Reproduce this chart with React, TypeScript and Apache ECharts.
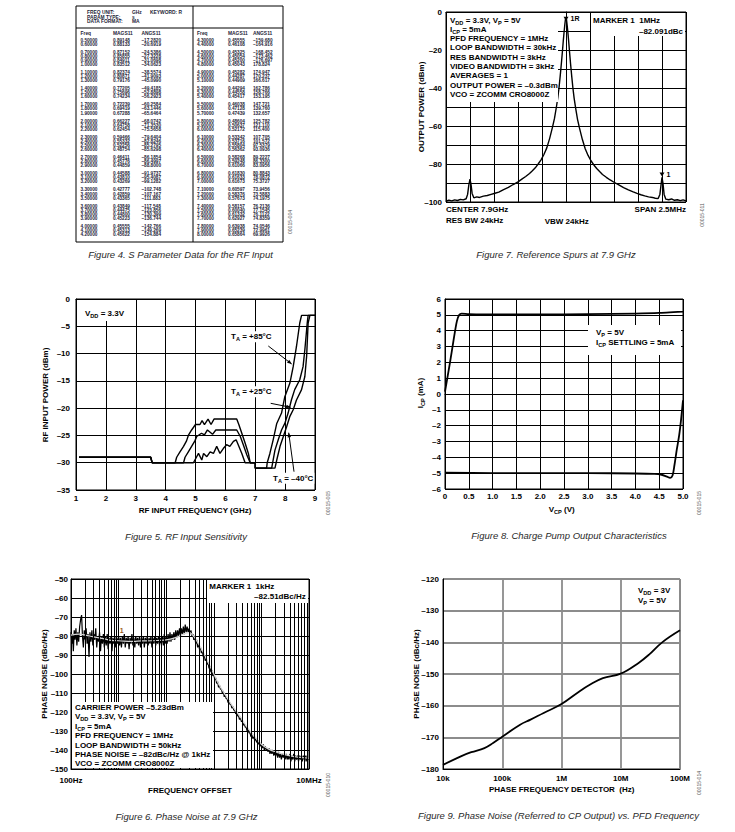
import React, { useEffect, useRef } from 'react';
import * as echarts from 'echarts';

const FONT = '"Liberation Sans", Arial, Helvetica, sans-serif';
const DASH = '\u2013';

// ---------------- Figure 4: S-parameter table ----------------
const tableFreqLeft = ['0.50000','0.60000','0.70000','0.80000','0.90000','1.00000','1.10000','1.20000','1.30000','1.40000','1.50000','1.60000','1.70000','1.80000','1.90000','2.00000','2.10000','2.20000','2.30000','2.40000','2.50000','2.60000','2.70000','2.80000','2.90000','3.00000','3.10000','3.20000','3.30000','3.40000','3.50000','3.60000','3.70000','3.80000','3.90000','4.00000','4.10000','4.20000'];
const tableMagLeft = ['0.89148','0.88133','0.87152','0.85855','0.84911','0.83512','0.82374','0.80871','0.79176','0.77205','0.75696','0.74234','0.72239','0.69419','0.67288','0.66227','0.64758','0.62454','0.59466','0.55332','0.52256','0.48754','0.46411','0.45776','0.44859','0.44588','0.43810','0.43269','0.42777','0.42859','0.43365','0.43849','0.44475','0.44800','0.45223','0.45555','0.45313','0.45622'];
const tableAngLeft = ['–17.2820','–20.6919','–24.5386','–27.3228','–31.0698','–34.0623','–38.5574','–41.9093','–45.0990','–49.4185','–52.8898','–56.2923','–60.2584','–63.1446','–65.6464','–68.0742','–71.3530','–75.5658','–79.6404','–82.8246','–85.2795','–85.6298','–86.1854','–86.4997','–88.8000','–91.9737','–95.4087','–99.1282','–102.748','–107.167','–111.883','–117.548','–123.856','–130.399','–136.744','–142.766','–149.269','–154.884'];
const tableFreqRight = ['4.30000','4.40000','4.50000','4.60000','4.70000','4.80000','4.90000','5.00000','5.10000','5.20000','5.30000','5.40000','5.50000','5.60000','5.70000','5.80000','5.90000','6.00000','6.10000','6.20000','6.30000','6.40000','6.50000','6.60000','6.70000','6.80000','6.90000','7.00000','7.10000','7.20000','7.30000','7.40000','7.50000','7.60000','7.70000','7.80000','7.90000','8.00000'];
const tableMagRight = ['0.45555','0.46108','0.45325','0.45054','0.45200','0.45043','0.45282','0.44287','0.44909','0.44294','0.44558','0.45417','0.46038','0.47128','0.47439','0.48604','0.50637','0.52172','0.53342','0.53716','0.55804','0.56362','0.58268','0.59248','0.61066','0.61830','0.61633','0.61673','0.60597','0.58376','0.57673','0.58157','0.60040','0.61332','0.62927','0.63938','0.65239','0.65864'];
const tableAngRight = ['–159.680','–164.916','–168.452','–173.462','–176.697','178.824','174.947','170.237','166.617','162.786','158.766','153.195','147.721','139.760','132.657','125.782','121.110','115.400','107.705','101.572','97.5379','93.0936','89.2227','86.3300','83.0956','80.8843','78.0872','75.3727','73.9456','73.5883','74.1975','76.2136','77.1545','76.1122','74.8359','74.0546','72.9961','69.9926'];
const tableGroupSizes = [2, 4, 3, 3, 3, 3, 4, 3, 3, 3, 4, 3];

// ---------------- Figure 7: reference spurs (offset MHz, dBm) ----------------
const spectrum: [number, number][] = [
  [-1.25,-99.6],[-1.22,-99.0],[-1.19,-99.4],[-1.16,-98.9],[-1.13,-99.2],[-1.10,-98.6],[-1.07,-98.9],[-1.04,-98.3],
  [-1.025,-96],[-1.012,-91],[-1.0,-88],[-0.99,-90.5],[-0.978,-95.5],[-0.96,-97.8],[-0.93,-97.3],[-0.90,-97.6],
  [-0.86,-96.9],[-0.82,-96.6],[-0.78,-96.0],[-0.74,-95.4],[-0.70,-94.8],[-0.65,-93.5],[-0.60,-92.3],[-0.55,-90.8],
  [-0.50,-89.4],[-0.46,-88],[-0.42,-86.6],[-0.38,-85],[-0.35,-83.6],[-0.32,-82],[-0.29,-80],[-0.26,-77.8],
  [-0.23,-75],[-0.20,-71.5],[-0.17,-66.5],[-0.14,-60.5],[-0.12,-56],[-0.10,-50],[-0.085,-45],[-0.073,-40],
  [-0.06,-33.5],[-0.048,-27],[-0.036,-20],[-0.028,-15],[-0.02,-10.5],[-0.012,-6.5],[-0.005,-3.5],[0,-2.8],
  [0.005,-3.8],[0.012,-7],[0.02,-11],[0.028,-15.5],[0.036,-20.5],[0.048,-27.5],[0.06,-34],[0.073,-40.5],
  [0.085,-45.5],[0.10,-50.5],[0.12,-56.5],[0.14,-61],[0.17,-67],[0.20,-72],[0.23,-75.5],[0.26,-78.3],
  [0.29,-80.5],[0.32,-82.4],[0.35,-84],[0.38,-85.5],[0.42,-87],[0.46,-88.4],[0.50,-89.6],[0.55,-91],
  [0.60,-92.4],[0.65,-93.6],[0.70,-94.7],[0.74,-95.5],[0.78,-96.2],[0.82,-96.8],[0.86,-97.3],[0.90,-97.6],
  [0.93,-98],[0.96,-98.2],[0.978,-96],[0.99,-91],[1.0,-87],[1.01,-90],[1.022,-96],[1.04,-98.5],
  [1.07,-98.8],[1.10,-98.4],[1.13,-99.1],[1.16,-98.8],[1.19,-99.3],[1.22,-98.9],[1.25,-99.4]
];

// ---------------- Figure 5: RF input sensitivity (GHz, dBm) ----------------
const rfSens85: [number, number][] = [
  [1.1,-29],[3.5,-29],[3.55,-30],[4.32,-30],[4.37,-29],[4.48,-28],[4.6,-27],[4.7,-26],[4.76,-25],[4.87,-24],
  [5.0,-23],[5.15,-23],[5.22,-22.3],[5.3,-23],[5.42,-22],[5.52,-23],[5.62,-22],[6.38,-22],[6.45,-23],[6.55,-24.6],
  [6.66,-26.4],[6.77,-28.3],[6.83,-30],[7.0,-30],[7.0,-31],[7.38,-31],[7.4,-30],[7.49,-28.3],[7.6,-25.8],
  [7.72,-22.8],[7.88,-20.9],[7.99,-17.9],[8.16,-15.4],[8.27,-12.4],[8.38,-8.7],[8.49,-4.4],[8.55,-3],[9.0,-3]
];
const rfSens25: [number, number][] = [
  [1.1,-29],[3.5,-29],[3.55,-30],[4.6,-30],[4.65,-29],[4.76,-28],[4.87,-27],[4.98,-26],[5.04,-25.2],[5.2,-24.6],
  [5.3,-24.9],[5.4,-24],[5.57,-24.8],[5.68,-24],[6.38,-24],[6.5,-25.2],[6.6,-26.7],[6.72,-28.6],[6.83,-30],
  [7.0,-30],[7.0,-31],[7.55,-31],[7.6,-29.5],[7.66,-27.7],[7.77,-25.8],[7.88,-24],[7.99,-22.8],[8.1,-20.9],
  [8.21,-18.5],[8.32,-16.6],[8.49,-14.8],[8.6,-12.4],[8.66,-9.3],[8.74,-4.4],[8.77,-3],[9.0,-3]
];
const rfSensM40: [number, number][] = [
  [1.1,-29],[3.5,-29],[3.55,-30],[4.93,-30],[5.04,-28.9],[5.1,-28.3],[5.21,-29.5],[5.27,-28.3],[5.38,-28.9],
  [5.49,-28],[5.6,-28.3],[5.71,-27],[5.82,-28.3],[5.93,-27.4],[6.04,-26.7],[6.15,-27],[6.27,-26.1],[6.36,-25.8],
  [6.43,-26.7],[6.55,-28.3],[6.66,-30],[7.0,-30],[7.0,-31],[7.66,-31],[7.72,-29.5],[7.83,-27],[7.94,-25.2],
  [8.05,-23.4],[8.16,-21.5],[8.27,-20.3],[8.38,-18.5],[8.55,-16.6],[8.66,-14.2],[8.72,-10.5],[8.77,-4.4],[8.83,-3],[9.0,-3]
];

// ---------------- Figure 8: charge pump output (V, mA) ----------------
const cpSourceV = [0, 0.1, 0.18, 0.25, 0.3, 0.35, 0.5, 1, 2, 3, 4, 4.5, 5];
const cpSourceI = [0.15, 1.9, 3.4, 4.6, 5.0, 5.08, 5.05, 5.02, 5.02, 5.04, 5.08, 5.12, 5.2];
const cpSinkV = [0, 1, 2, 3, 4, 4.4, 4.55, 4.65, 4.73, 4.78, 4.82, 4.87, 4.92, 4.96, 5.0];
const cpSinkI = [-4.97, -5, -5, -5, -5.02, -5.05, -5.1, -5.2, -5.3, -5.15, -4.5, -3.5, -2.6, -1.6, -0.4];

// ---------------- Figure 6: phase noise at 7.9 GHz (Hz, dBc/Hz) ----------------
const pnNoise: [number, number][] = [
  [100,-78],[104,-84],[108,-79],[112,-88],[117,-77],[122,-82],[127,-76],[133,-85],[139,-78],[145,-83],[152,-75],[160,-71],[167,-69],[174,-80],[182,-86],[190,-77],[199,-82],[208,-76],[218,-84],[228,-79],[239,-91],[250,-78],[262,-83],[275,-77],[288,-85],[302,-79],[316,-82],[331,-76],[347,-86],[363,-80],[380,-83],[398,-78],[417,-88],[437,-80],[457,-84],[479,-79],[501,-86],[525,-80],[550,-85],[576,-79],[603,-87],[631,-81],[661,-84],[692,-80],[725,-88],[759,-81],[794,-84],[832,-80],[871,-86],[912,-81],[955,-84],
  [1000,-80],[1047,-85],[1096,-81],[1148,-86],[1202,-80],[1259,-84],[1318,-79],[1380,-86],[1445,-81],[1514,-84],[1585,-80],[1660,-87],[1738,-81],[1820,-84],[1905,-79],[1995,-85],[2089,-81],[2188,-86],[2291,-80],[2399,-84],[2512,-81],[2630,-85],[2754,-80],[2884,-86],[3020,-81],[3162,-84],[3311,-80],[3467,-86],[3631,-81],[3802,-84],[3981,-80],[4169,-85],[4365,-81],[4571,-84],[4786,-80],[5012,-86],[5248,-81],[5495,-84],[5754,-80],[6026,-85],[6310,-81],[6607,-84],[6918,-80],[7244,-85],[7586,-81],[7943,-84],[8318,-80],[8710,-85],[9120,-79],[9550,-84],
  [10000,-80],[10470,-84],[10960,-79],[11480,-83],[12020,-78],[12590,-83],[13180,-79],[13800,-82],[14450,-78],[15140,-82],[15850,-77],[16600,-81],[17380,-77],[18200,-80],[19050,-76],[19950,-80],[20890,-76],[21880,-79],[22910,-75],[23990,-79],[25120,-74],[26300,-78],[27540,-75],[28840,-78],[30200,-76],[31620,-79],[33110,-77],[34670,-80],[36310,-79],[38020,-82],[39810,-80],[41690,-84],[43650,-82],[45710,-86],[47860,-84],[50120,-87],[52480,-86],[54950,-89],[57540,-88],[60260,-91],[63100,-90],[66070,-93],[69180,-92],[72440,-95],[75860,-94],[79430,-97],[83180,-96],[87100,-99],[91200,-98],[95500,-101],
  [100000,-100],[104700,-103],[109600,-102],[114800,-105],[120200,-104],[125900,-107],[131800,-106],[138000,-108],[144500,-108],[151400,-110],[158500,-109],[166000,-112],[173800,-111],[182000,-113],[190500,-113],[199500,-115],[208900,-114],[218800,-116],[229100,-116],[239900,-118],[251200,-117],[263000,-119],[275400,-119],[288400,-121],[302000,-120],[316200,-122],[331100,-122],[346700,-124],[363100,-123],[380200,-125],[398100,-125],[416900,-127],[436500,-126],[457100,-128],[478600,-128],[501200,-130],[524800,-129],[549500,-131],[575400,-131],[602600,-133],[631000,-132],[660700,-134],[691800,-133],[724400,-135],[758600,-134],[794300,-136],[831800,-135],[871000,-137],[912000,-136],[955000,-138],
  [1000000,-137],[1047000,-139],[1096000,-137],[1148000,-140],[1202000,-138],[1259000,-140],[1318000,-139],[1380000,-141],[1445000,-139],[1514000,-142],[1585000,-140],[1660000,-142],[1738000,-140],[1820000,-143],[1905000,-141],[1995000,-143],[2089000,-141],[2188000,-144],[2291000,-141],[2399000,-144],[2512000,-142],[2630000,-145],[2754000,-142],[2884000,-144],[3020000,-142],[3162000,-145],[3311000,-142],[3467000,-145],[3631000,-143],[3802000,-145],[3981000,-142],[4169000,-146],[4365000,-143],[4571000,-145],[4786000,-142],[5012000,-146],[5248000,-143],[5495000,-145],[5754000,-143],[6026000,-146],[6310000,-143],[6607000,-145],[6918000,-143],[7244000,-146],[7586000,-143],[7943000,-145],[8318000,-143],[8710000,-146],[9120000,-143],[9550000,-145],[10000000,-144]
];
const pnTrend: [number, number][] = [
  [100,-79.5],[150,-79],[200,-79.5],[300,-80.5],[500,-81.5],[700,-82.3],[1000,-82.5],[2000,-82.8],[3000,-82.6],[5000,-82.5],
  [7000,-82.3],[10000,-82],[15000,-81],[20000,-79.8],[25000,-78.6],[30000,-78.2],[35000,-79.2],[40000,-81],[50000,-85],
  [60000,-88.6],[70000,-92],[80000,-95],[100000,-100],[130000,-105.8],[170000,-110.5],[250000,-117],[350000,-122],
  [500000,-128],[700000,-132.5],[1000000,-137],[1500000,-139.8],[2000000,-141],[3000000,-142.3],[5000000,-143.5],
  [7000000,-144],[10000000,-144.3]
];

// ---------------- Figure 9: phase noise vs PFD frequency ----------------
const pfdFreq = [1e4, 2e4, 3e4, 5e4, 7e4, 1e5, 2e5, 3e5, 5e5, 1e6, 2e6, 3e6, 5e6, 1e7, 2e7, 3e7, 5e7, 1e8];
const pfdNoise = [-178.7, -176, -174.7, -173.4, -171.8, -169.8, -166, -164.4, -162.3, -159.5, -155.5, -153.4, -151.3, -149.9, -146.5, -143.9, -140, -136.2];
const pfdTickLabels: Record<number, string> = { 4: '10k', 5: '100k', 6: '1M', 7: '10M', 8: '100M' };

// ---------------- helpers ----------------
const RICH: any = {
  sub: { fontSize: 5.6, fontWeight: 'bold', fontFamily: FONT, verticalAlign: 'bottom', lineHeight: 5, fill: '#000' },
};

function txt(x: number, y: number, text: string, o: any = {}) {
  return {
    type: 'text', x, y, z: 30, silent: true, rotation: o.rotation || 0,
    style: {
      text, fill: '#000', fontFamily: FONT, fontWeight: 'bold', fontSize: 8, lineHeight: 11,
      align: o.align || 'left', verticalAlign: 'middle', rich: RICH, ...(o.style || {}),
    },
  };
}
function box(x: number, y: number, w: number, h: number) {
  return { type: 'rect', z: 25, silent: true, shape: { x, y, width: w, height: h }, style: { fill: '#fff' } };
}
function seg(x1: number, y1: number, x2: number, y2: number, w = 1, color = '#000', z = 30) {
  return { type: 'line', z, silent: true, shape: { x1, y1, x2, y2 }, style: { stroke: color, lineWidth: w } };
}
function arrowHead(x1: number, y1: number, x2: number, y2: number, len = 4.5, hw = 1.8) {
  const a = Math.atan2(y2 - y1, x2 - x1);
  const bx = x2 - len * Math.cos(a), by = y2 - len * Math.sin(a);
  const px = -Math.sin(a) * hw, py = Math.cos(a) * hw;
  return { type: 'polygon', z: 31, silent: true, shape: { points: [[x2, y2], [bx + px, by + py], [bx - px, by - py]] }, style: { fill: '#000' } };
}
const fmtNeg = (v: number) => (v < 0 ? DASH + Math.abs(v) : String(v));
const labelStyle = { color: '#000', fontFamily: FONT, fontWeight: 'bold', fontSize: 8 };
const blackSplit = { show: true, lineStyle: { color: '#000', width: 1 } };
const blackAxisLine = { show: true, lineStyle: { color: '#000', width: 1 } };

function buildGraphic() {
  const els: any[] = [];
  // ---- table (Figure 4)
  els.push({ type: 'rect', z: 20, silent: true, shape: { x: 76, y: 6, width: 207, height: 236 }, style: { fill: 'none', stroke: '#000', lineWidth: 1 } });
  els.push(seg(76, 28, 283, 28, 1, '#000', 20));
  els.push(seg(193, 6, 193, 242, 1, '#000', 20));
  const tcol = '#1e1e38';
  const hs = { fontSize: 4.9, fill: tcol };
  els.push(txt(87, 12.8, 'FREQ UNIT:', { style: hs }), txt(132, 12.8, 'GHz', { style: hs }), txt(150, 12.8, 'KEYWORD: R', { style: hs }));
  els.push(txt(87, 17.3, 'PARAM TYPE:', { style: hs }), txt(132, 17.3, 's', { style: hs }));
  els.push(txt(87, 21.8, 'DATA FORMAT:', { style: hs }), txt(132, 21.8, 'MA', { style: hs }));
  const colsL = [80.5, 113, 141.5];
  const colsR = [197, 228, 253];
  ['Freq', 'MAGS11', 'ANGS11'].forEach((h, i) => {
    els.push(txt(colsL[i], 33.5, h, { style: hs }));
    els.push(txt(colsR[i], 33.5, h, { style: hs }));
  });
  const rowY: number[] = [];
  let yy = 40;
  tableGroupSizes.forEach((n) => {
    for (let k = 0; k < n; k++) { rowY.push(yy); yy += 4.1; }
    yy += 3.9;
  });
  const ds = { fontSize: 4.7, fill: tcol };
  tableFreqLeft.forEach((f, i) => {
    els.push(txt(colsL[0], rowY[i], f, { style: ds }), txt(colsL[1], rowY[i], tableMagLeft[i], { style: ds }), txt(colsL[2], rowY[i], tableAngLeft[i], { style: ds }));
  });
  tableFreqRight.forEach((f, i) => {
    els.push(txt(colsR[0], rowY[i], f, { style: ds }), txt(colsR[1], rowY[i], tableMagRight[i], { style: ds }), txt(colsR[2], rowY[i], tableAngRight[i], { style: ds }));
  });

  // ---- captions
  const cap = { fontStyle: 'italic', fontWeight: 'normal', fontSize: 9.5, fill: '#2a2a2a' };
  els.push(txt(180.5, 254, 'Figure 4. S Parameter Data for the RF Input', { align: 'center', style: cap }));
  els.push(txt(556, 254, 'Figure 7. Reference Spurs at 7.9 GHz', { align: 'center', style: cap }));
  els.push(txt(186, 536.5, 'Figure 5. RF Input Sensitivity', { align: 'center', style: cap }));
  els.push(txt(569, 535, 'Figure 8. Charge Pump Output Characteristics', { align: 'center', style: cap }));
  els.push(txt(186.5, 816, 'Figure 6. Phase Noise at 7.9 GHz', { align: 'center', style: cap }));
  els.push(txt(558.5, 815, 'Figure 9. Phase Noise (Referred to CP Output) vs. PFD Frequency', { align: 'center', style: cap }));

  // ---- figure ids
  const ids = { fontSize: 5, fontWeight: 'normal', fill: '#555' };
  const R = Math.PI / 2;
  els.push(txt(290, 222, '00015-004', { align: 'center', rotation: R, style: ids }));
  els.push(txt(702, 215, '00015-011', { align: 'center', rotation: R, style: ids }));
  els.push(txt(328, 503, '00015-005', { align: 'center', rotation: R, style: ids }));
  els.push(txt(699, 503, '00015-015', { align: 'center', rotation: R, style: ids }));
  els.push(txt(328, 785, '00015-010', { align: 'center', rotation: R, style: ids }));
  els.push(txt(699, 783, '00015-014', { align: 'center', rotation: R, style: ids }));

  // ---- Figure 7 annotations
  els.push(box(447, 13, 111, 89), box(591, 13, 94, 23));
  const f7 = [
    'V{sub|DD} = 3.3V, V{sub|P} = 5V', 'I{sub|CP} = 5mA', 'PFD FREQUENCY = 1MHz', 'LOOP BANDWIDTH = 30kHz',
    'RES BANDWIDTH = 3kHz', 'VIDEO BANDWIDTH = 3kHz', 'AVERAGES = 1', 'OUTPUT POWER = ' + DASH + '0.3dBm', 'VCO = ZCOMM CRO8000Z',
  ];
  const f7y = [20, 29, 38.3, 47.7, 57.2, 66.5, 75.8, 85, 94.3];
  f7.forEach((t, i) => els.push(txt(450, f7y[i], t)));
  els.push(txt(593, 20, 'MARKER 1  1MHz'), txt(683, 31, DASH + '82.091dBc', { align: 'right' }));
  els.push(txt(446, 209, 'CENTER 7.9GHz'), txt(446, 220, 'RES BW 24kHz'), txt(566.7, 221, 'VBW 24kHz', { align: 'center' }), txt(686, 209, 'SPAN 2.5MHz', { align: 'right' }));
  els.push(txt(421.7, 107, 'OUTPUT POWER (dBm)', { align: 'center', rotation: R }));

  // ---- Figure 5 annotations
  els.push(box(77, 300, 51, 21));
  els.push(txt(85, 313.3, 'V{sub|DD} = 3.3V'));
  const bg = { backgroundColor: '#fff', padding: [0, 1, 0, 1] };
  els.push(txt(230, 336.7, 'T{sub|A} = +85°C', { style: bg }));
  els.push(txt(230, 391.7, 'T{sub|A} = +25°C', { style: bg }));
  els.push(txt(272, 478.3, 'T{sub|A} = ' + DASH + '40°C', { style: bg }));
  els.push(seg(268.3, 346, 291.7, 364), arrowHead(268.3, 346, 291.7, 364));
  els.push(seg(270.7, 403.3, 290.7, 407.3), arrowHead(270.7, 403.3, 290.7, 407.3));
  els.push(seg(294, 471.7, 288.7, 432.7), arrowHead(294, 471.7, 288.7, 432.7));
  els.push(txt(195, 510.7, 'RF INPUT FREQUENCY (GHz)', { align: 'center' }));
  els.push(txt(45, 395, 'RF INPUT POWER (dBm)', { align: 'center', rotation: R }));

  // ---- Figure 8 annotations
  els.push(box(588, 325, 93, 30));
  els.push(txt(596, 332.7, 'V{sub|P} = 5V'), txt(596, 342.3, 'I{sub|CP} SETTLING = 5mA'));
  els.push(txt(561.7, 509, 'V{sub|CP} (V)', { align: 'center' }));
  els.push(txt(420.7, 393, 'I{sub|CP} (mA)', { align: 'center', rotation: R }));

  // ---- Figure 6 annotations
  els.push(box(207, 580, 101, 23), box(72, 702, 141, 66));
  els.push(txt(209.3, 586.7, 'MARKER 1  1kHz'), txt(305.7, 596.7, DASH + '82.51dBc/Hz', { align: 'right' }));
  const f6 = [
    'CARRIER POWER ' + DASH + '5.23dBm', 'V{sub|DD} = 3.3V, V{sub|P} = 5V', 'I{sub|CP} = 5mA', 'PFD FREQUENCY = 1MHz',
    'LOOP BANDWIDTH = 50kHz', 'PHASE NOISE = ' + DASH + '82dBc/Hz @ 1kHz', 'VCO = ZCOMM CRO8000Z',
  ];
  const f6y = [707.3, 716.7, 726.3, 735.7, 745, 754.3, 763.7];
  f6.forEach((t, i) => els.push(txt(75, f6y[i], t)));
  els.push(txt(190, 790.7, 'FREQUENCY OFFSET', { align: 'center' }));
  els.push(txt(44, 674, 'PHASE NOISE (dBc/Hz)', { align: 'center', rotation: R }));

  // ---- Figure 9 annotations
  els.push(txt(638, 590.7, 'V{sub|DD} = 3V'), txt(638, 600.3, 'V{sub|P} = 5V'));
  els.push(txt(561.7, 789, 'PHASE FREQUENCY DETECTOR  (Hz)', { align: 'center' }));
  els.push(txt(416, 674, 'PHASE NOISE (dBc/Hz)', { align: 'center', rotation: R }));
  return els;
}

function buildOption(): any {
  const gridBase = { show: true, borderColor: '#000', borderWidth: 1, backgroundColor: 'transparent', containLabel: false };
  const minorGrid: any[] = [];
  [100, 1000, 10000, 100000, 1000000].forEach((d) => {
    for (let k = 2; k <= 9; k++) minorGrid.push({ xAxis: k * d });
  });
  const mpLabel = { show: true, color: '#000', fontFamily: FONT, fontWeight: 'bold', fontSize: 7 };
  return {
    animation: false,
    backgroundColor: '#fff',
    grid: [
      { ...gridBase, left: 446, top: 12, width: 240, height: 190 },
      { ...gridBase, left: 76, top: 299, width: 239, height: 191 },
      { ...gridBase, left: 445, top: 299, width: 238, height: 190 },
      { ...gridBase, left: 71, top: 579, width: 238, height: 190 },
      { ...gridBase, left: 443, top: 579, width: 237, height: 190 },
    ],
    xAxis: [
      { gridIndex: 0, type: 'value', min: -1.25, max: 1.25, interval: 0.25, axisLine: blackAxisLine, axisTick: { show: false }, axisLabel: { show: false }, splitLine: blackSplit },
      { gridIndex: 1, type: 'value', min: 1, max: 9, interval: 1, axisLine: blackAxisLine, axisTick: { show: false }, axisLabel: { ...labelStyle, margin: 4 }, splitLine: blackSplit },
      { gridIndex: 2, type: 'value', min: 0, max: 5, interval: 0.5, axisLine: blackAxisLine, axisTick: { show: false },
        axisLabel: { ...labelStyle, margin: 3, formatter: (v: number) => (v === 0 ? '0' : v.toFixed(1)) }, splitLine: blackSplit },
      { gridIndex: 3, type: 'log', logBase: 10, min: 100, max: 1e7, axisLine: blackAxisLine, axisTick: { show: false },
        axisLabel: { ...labelStyle, margin: 7, formatter: (v: number) => { const e = Math.round(Math.log10(v)); return e === 2 ? '100Hz' : e === 7 ? '10MHz' : ''; } },
        splitLine: blackSplit },
      { gridIndex: 4, type: 'log', logBase: 10, min: 1e4, max: 1e8, axisLine: blackAxisLine, axisTick: { show: false },
        axisLabel: { ...labelStyle, margin: 5, formatter: (v: number) => pfdTickLabels[Math.round(Math.log10(v))] || '' },
        splitLine: { show: true, lineStyle: { color: '#8c8c8c', width: 1.8 } } },
    ],
    yAxis: [
      { gridIndex: 0, type: 'value', min: -100, max: 0, interval: 10, axisLine: blackAxisLine, axisTick: { show: false },
        axisLabel: { ...labelStyle, margin: 4, formatter: (v: number) => (v % 20 === 0 ? fmtNeg(v) : '') }, splitLine: blackSplit },
      { gridIndex: 1, type: 'value', min: -35, max: 0, interval: 5, axisLine: blackAxisLine, axisTick: { show: false },
        axisLabel: { ...labelStyle, margin: 6, formatter: fmtNeg }, splitLine: blackSplit },
      { gridIndex: 2, type: 'value', min: -6, max: 6, interval: 1, axisLine: blackAxisLine, axisTick: { show: false },
        axisLabel: { ...labelStyle, margin: 4, formatter: fmtNeg }, splitLine: blackSplit },
      { gridIndex: 3, type: 'value', min: -150, max: -50, interval: 10, axisLine: blackAxisLine, axisTick: { show: false },
        axisLabel: { ...labelStyle, margin: 3, formatter: fmtNeg }, splitLine: blackSplit },
      { gridIndex: 4, type: 'value', min: -180, max: -120, interval: 10, axisLine: blackAxisLine, axisTick: { show: false },
        axisLabel: { ...labelStyle, margin: 4, formatter: fmtNeg }, splitLine: { show: true, lineStyle: { color: '#8c8c8c', width: 1.8 } } },
    ],
    series: [
      // Figure 7
      { type: 'line', xAxisIndex: 0, yAxisIndex: 0, data: spectrum, symbol: 'none', silent: true,
        lineStyle: { color: '#000', width: 1.4 },
        markPoint: { silent: true, symbol: 'triangle', symbolSize: [5, 4], symbolRotate: 180, itemStyle: { color: '#000' },
          data: [
            { coord: [0, -3.5], label: { ...mpLabel, formatter: '1R', position: 'right', distance: 2 } },
            { coord: [1.0, -85.5], label: { ...mpLabel, formatter: '1', position: 'right', distance: 2 } },
          ] } },
      // Figure 5
      { type: 'line', xAxisIndex: 1, yAxisIndex: 1, data: rfSens85, symbol: 'none', silent: true, lineStyle: { color: '#000', width: 1.4 } },
      { type: 'line', xAxisIndex: 1, yAxisIndex: 1, data: rfSens25, symbol: 'none', silent: true, lineStyle: { color: '#000', width: 1.4 } },
      { type: 'line', xAxisIndex: 1, yAxisIndex: 1, data: rfSensM40, symbol: 'none', silent: true, lineStyle: { color: '#000', width: 1.4 } },
      // Figure 8
      { type: 'line', xAxisIndex: 2, yAxisIndex: 2, data: cpSourceV.map((v, i) => [v, cpSourceI[i]]), symbol: 'none', smooth: 0.3, silent: true, lineStyle: { color: '#000', width: 1.8 } },
      { type: 'line', xAxisIndex: 2, yAxisIndex: 2, data: cpSinkV.map((v, i) => [v, cpSinkI[i]]), symbol: 'none', smooth: 0.3, silent: true, lineStyle: { color: '#000', width: 1.8 } },
      // Figure 6 minor log grid
      { type: 'line', xAxisIndex: 3, yAxisIndex: 3, data: [[100, -300]], symbol: 'none', silent: true, lineStyle: { width: 0 },
        markLine: { silent: true, symbol: ['none', 'none'], label: { show: false }, lineStyle: { color: '#000', width: 1, type: 'solid' }, data: minorGrid } },
      { type: 'line', xAxisIndex: 3, yAxisIndex: 3, data: pnNoise, symbol: 'none', silent: true, lineStyle: { color: '#000', width: 1.2 } },
      { type: 'line', xAxisIndex: 3, yAxisIndex: 3, data: pnTrend, symbol: 'none', smooth: true, silent: true, lineStyle: { color: '#d4d4d4', width: 1.2 },
        markPoint: { silent: true, symbol: 'circle', symbolSize: 1, itemStyle: { color: 'transparent' },
          data: [{ coord: [1000, -82.5], label: { ...mpLabel, color: '#9a5a1a', formatter: '1', position: 'top', distance: 6, offset: [3, 0] } }] } },
      // Figure 9
      { type: 'line', xAxisIndex: 4, yAxisIndex: 4, data: pfdFreq.map((f, i) => [f, pfdNoise[i]]), symbol: 'none', smooth: 0.4, silent: true, lineStyle: { color: '#000', width: 1.8 } },
    ],
    graphic: { elements: buildGraphic() },
  };
}

export default function App() {
  const ref = useRef<HTMLDivElement>(null);
  useEffect(() => {
    const chart = echarts.init(ref.current as HTMLDivElement, null, { renderer: 'svg' });
    chart.setOption(buildOption());
    return () => chart.dispose();
  }, []);
  return <div ref={ref} style={{ position: 'fixed', left: 0, top: 0, width: 735, height: 832, background: '#fff' }} />;
}
